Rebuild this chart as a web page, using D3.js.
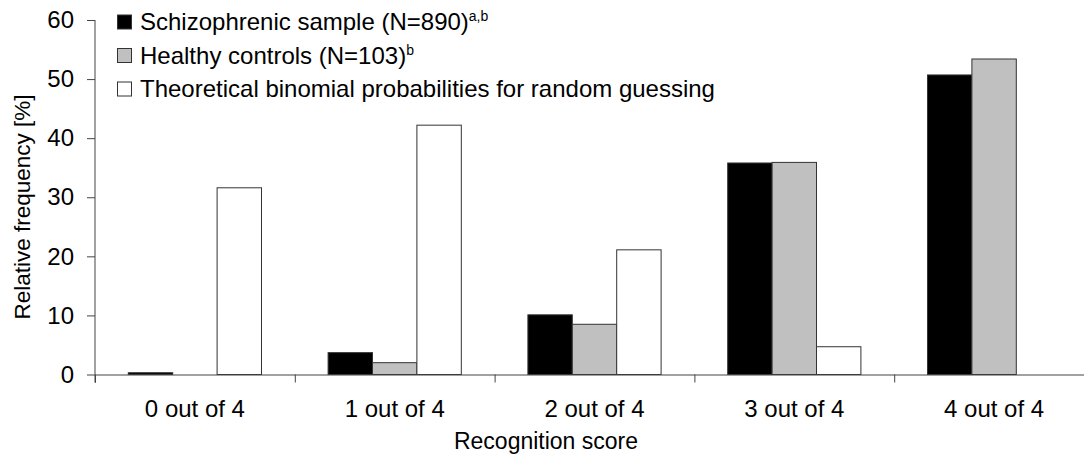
<!DOCTYPE html>
<html>
<head>
<meta charset="utf-8">
<script src="https://cdn.jsdelivr.net/npm/d3@7"></script>
<style>
  body { margin: 0; background: #fff; }
  text { font-family: "Liberation Sans", Arial, sans-serif; fill: #000; }
</style>
</head>
<body>
<div id="chart"></div>
<script>
// data
const categories = ["0 out of 4", "1 out of 4", "2 out of 4", "3 out of 4", "4 out of 4"];
const seriesNames = ["schizo", "controls", "binomial"];
const schizoValues = [0.3, 3.7, 10.1, 35.8, 50.7];
const controlValues = [0, 2.0, 8.5, 35.9, 53.4];
const binomialValues = [31.6, 42.2, 21.1, 4.7, 0];
const yTicks = [0, 10, 20, 30, 40, 50, 60];

function createBarChart() {
    const w = 1084;
    const h = 454;
    const left = 95, right = 1094;
    const top = 20, bottom = 374.5;

    const colors = { schizo: "#000000", controls: "#c0c0c0", binomial: "#ffffff" };

    const rows = categories.map(function(c, i) {
        return {
            cat: c,
            values: [
                { key: "schizo", value: schizoValues[i] },
                { key: "controls", value: controlValues[i] },
                { key: "binomial", value: binomialValues[i] }
            ]
        };
    });

    /* SCALES */
    const x0 = d3.scaleBand().domain(categories).range([left, right]);
    const x1 = d3.scaleBand().domain(seriesNames)
        .range([0, x0.bandwidth()])
        .paddingOuter(0.75);
    const xEdge = d3.scaleLinear().domain([0, categories.length]).range([left, right]);
    const y = d3.scaleLinear().domain([0, 60]).range([bottom, top]);

    const svg = d3.select("#chart").append("svg")
        .attr("width", w)
        .attr("height", h);

    /* BARS */
    const groups = svg.selectAll("g.group")
        .data(rows)
        .enter().append("g")
        .attr("class", "group")
        .attr("transform", function(d) { return "translate(" + x0(d.cat) + ",0)"; });

    groups.selectAll("rect")
        .data(function(d) { return d.values.filter(function(v) { return v.value > 0; }); })
        .enter().append("rect")
        .attr("x", function(d) { return x1(d.key); })
        .attr("width", x1.bandwidth())
        .attr("y", function(d) { return y(d.value); })
        .attr("height", function(d) { return y(0) - y(d.value); })
        .style("fill", function(d) { return colors[d.key]; })
        .style("stroke", "#333")
        .style("stroke-width", 1);

    /* AXES */
    const yAxis = svg.append("g")
        .attr("transform", "translate(" + left + ",0)")
        .call(d3.axisLeft(y).tickValues(yTicks).tickSize(8).tickPadding(13));

    svg.append("g")
        .attr("transform", "translate(0," + bottom + ")")
        .call(d3.axisBottom(xEdge).tickValues(d3.range(categories.length + 1))
            .tickSize(8).tickFormat(""));

    svg.append("g")
        .attr("transform", "translate(0," + bottom + ")")
        .call(d3.axisBottom(x0).tickSize(0).tickPadding(25))
        .call(function(g) { g.select(".domain").remove(); });

    svg.selectAll(".domain, .tick line")
        .attr("stroke", "#444")
        .attr("stroke-width", 1);
    svg.selectAll(".tick text")
        .style("font-size", "24px")
        .attr("fill", "#000");
    yAxis.selectAll(".domain").attr("d", "M0," + top + "V" + (bottom + 8));
    yAxis.selectAll(".tick line").attr("x1", 0).attr("x2", -8);

    /* TITLES */
    svg.append("text")
        .attr("transform", "translate(30,207) rotate(-90)")
        .style("text-anchor", "middle")
        .style("font-size", "22.5px")
        .text("Relative frequency [%]");

    svg.append("text")
        .attr("x", 546)
        .attr("y", 449)
        .style("text-anchor", "middle")
        .style("font-size", "23px")
        .text("Recognition score");

    /* LEGEND */
    const legendItems = [
        { key: "schizo", label: "Schizophrenic sample (N=890)", sup: "a,b" },
        { key: "controls", label: "Healthy controls (N=103)", sup: "b" },
        { key: "binomial", label: "Theoretical binomial probabilities for random guessing", sup: "" }
    ];
    const legend = svg.selectAll("g.legend")
        .data(legendItems)
        .enter().append("g")
        .attr("class", "legend")
        .attr("transform", function(d, i) { return "translate(117," + (22 + i * 33.5) + ")"; });

    legend.append("rect")
        .attr("x", 0.5).attr("y", -7)
        .attr("width", 14).attr("height", 14)
        .style("fill", function(d) { return colors[d.key]; })
        .style("stroke", "#333");

    const lt = legend.append("text")
        .attr("x", 23)
        .attr("y", 8)
        .style("font-size", "24px");
    lt.append("tspan").text(function(d) { return d.label; });
    lt.append("tspan")
        .attr("dy", -9)
        .style("font-size", "14px")
        .text(function(d) { return d.sup; });
}

createBarChart();
</script>
</body>
</html>
